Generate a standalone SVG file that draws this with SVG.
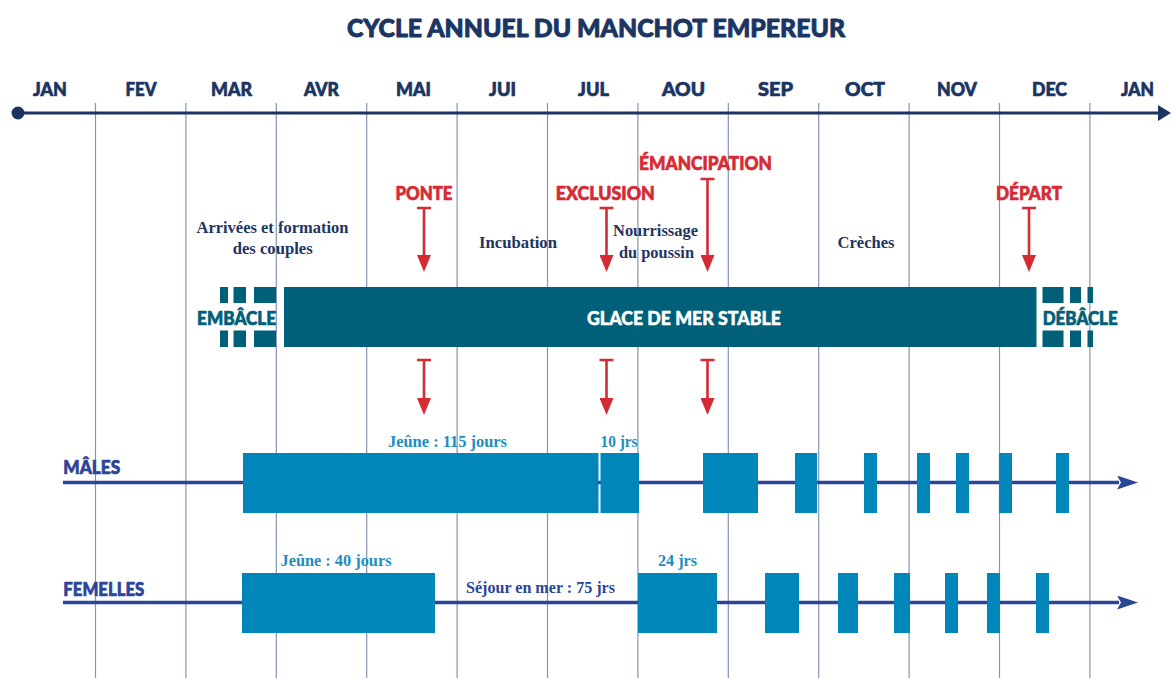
<svg xmlns="http://www.w3.org/2000/svg" width="1171" height="678" viewBox="0 0 1171 678">
  <defs>
    <style>
      .head { font-family: Lato, "Liberation Sans", sans-serif; font-weight: 900; text-anchor: middle; stroke-width: 0.7px; stroke-linejoin: round; }
      .title { font-size: 25.5px; fill: #1b3563; stroke: #1b3563; stroke-width: 0.9px; }
      .month { font-size: 19.5px; fill: #1b3563; stroke: #1b3563; }
      .event { font-size: 19.5px; fill: #d52b35; stroke: #d52b35; }
      .ice { font-size: 19px; fill: #005f79; stroke: #005f79; }
      .iceW { font-size: 19px; fill: #ffffff; stroke: #ffffff; stroke-width: 0.5px; }
      .sex { font-family: Lato, "Liberation Sans", sans-serif; font-weight: 900; font-size: 19.5px; fill: #2b4597; stroke: #2b4597; stroke-width: 0.7px; stroke-linejoin: round; }
      .note { font-family: "Liberation Serif", serif; font-weight: 700; font-size: 17px; fill: #1f3561; text-anchor: middle; }
      .fast { font-family: "Liberation Serif", serif; font-weight: 700; font-size: 17px; fill: #1e8ec1; text-anchor: middle; }
      .sea { font-family: "Liberation Serif", serif; font-weight: 700; font-size: 17px; fill: #2b4597; text-anchor: middle; }
      .grid { stroke: #8594b0; stroke-width: 1.2; }
      .axis { stroke: #1b3563; stroke-width: 3; fill: none; }
      .life { stroke: #2b4597; stroke-width: 3.5; fill: none; }
      .evt { stroke: #d52b35; stroke-width: 2.6; fill: none; }
      .bar { fill: #0086b8; }
      .block { fill: #005f79; }
    </style>
    <marker id="axisHead" markerUnits="userSpaceOnUse" viewBox="0 0 13 16" markerWidth="13" markerHeight="16" refX="2" refY="8" orient="auto">
      <path d="M0,0 L13,8 L0,16 z" fill="#1b3563"/>
    </marker>
    <marker id="lifeHead" markerUnits="userSpaceOnUse" viewBox="0 0 21 14" markerWidth="21" markerHeight="14" refX="2" refY="7" orient="auto">
      <path d="M0,0 L21,7 L0,14 L4,7 z" fill="#2b4597"/>
    </marker>
    <marker id="evtHead" markerUnits="userSpaceOnUse" viewBox="0 0 17 14" markerWidth="17" markerHeight="14" refX="2" refY="7" orient="auto">
      <path d="M0,0 L17,7 L0,14 z" fill="#d52b35"/>
    </marker>
  </defs>

  <rect width="1171" height="678" fill="#ffffff"/>

  <!-- month grid -->
  <g id="grid">
    <line class="grid" x1="95.5" y1="103" x2="95.5" y2="678"/>
    <line class="grid" x1="185.9" y1="103" x2="185.9" y2="678"/>
    <line class="grid" x1="276.3" y1="103" x2="276.3" y2="678"/>
    <line class="grid" x1="366.7" y1="103" x2="366.7" y2="678"/>
    <line class="grid" x1="457.1" y1="103" x2="457.1" y2="678"/>
    <line class="grid" x1="547.5" y1="103" x2="547.5" y2="678"/>
    <line class="grid" x1="637.9" y1="103" x2="637.9" y2="678"/>
    <line class="grid" x1="728.3" y1="103" x2="728.3" y2="678"/>
    <line class="grid" x1="818.7" y1="103" x2="818.7" y2="678"/>
    <line class="grid" x1="909.1" y1="103" x2="909.1" y2="678"/>
    <line class="grid" x1="999.5" y1="103" x2="999.5" y2="678"/>
    <line class="grid" x1="1089.9" y1="103" x2="1089.9" y2="678"/>
  </g>

  <g id="title">
    <text class="head title" x="596" y="37" textLength="498" lengthAdjust="spacingAndGlyphs">CYCLE ANNUEL DU MANCHOT EMPEREUR</text>
  </g>

  <g id="months">
    <text class="head month" x="50" y="95.5" textLength="34" lengthAdjust="spacingAndGlyphs">JAN</text>
    <text class="head month" x="141" y="95.5" textLength="31" lengthAdjust="spacingAndGlyphs">FEV</text>
    <text class="head month" x="231.5" y="95.5" textLength="41" lengthAdjust="spacingAndGlyphs">MAR</text>
    <text class="head month" x="321.5" y="95.5" textLength="35" lengthAdjust="spacingAndGlyphs">AVR</text>
    <text class="head month" x="413.5" y="95.5" textLength="35" lengthAdjust="spacingAndGlyphs">MAI</text>
    <text class="head month" x="502.5" y="95.5" textLength="27" lengthAdjust="spacingAndGlyphs">JUI</text>
    <text class="head month" x="593.5" y="95.5" textLength="31" lengthAdjust="spacingAndGlyphs">JUL</text>
    <text class="head month" x="683.5" y="95.5" textLength="43" lengthAdjust="spacingAndGlyphs">AOU</text>
    <text class="head month" x="775.5" y="95.5" textLength="35" lengthAdjust="spacingAndGlyphs">SEP</text>
    <text class="head month" x="865" y="95.5" textLength="40" lengthAdjust="spacingAndGlyphs">OCT</text>
    <text class="head month" x="957" y="95.5" textLength="40" lengthAdjust="spacingAndGlyphs">NOV</text>
    <text class="head month" x="1049.5" y="95.5" textLength="35" lengthAdjust="spacingAndGlyphs">DEC</text>
    <text class="head month" x="1137.5" y="95.5" textLength="33" lengthAdjust="spacingAndGlyphs">JAN</text>
  </g>

  <!-- year axis -->
  <g id="axis">
    <line class="axis" x1="18" y1="113" x2="1160" y2="113" marker-end="url(#axisHead)"/>
    <circle cx="18" cy="113" r="6.5" fill="#1b3563"/>
  </g>

  <!-- colony phases -->
  <g id="phases">
    <text class="note" x="272.5" y="232.5" textLength="152" lengthAdjust="spacingAndGlyphs">Arrivées et formation</text>
    <text class="note" x="272.7" y="254.3" textLength="80" lengthAdjust="spacingAndGlyphs">des couples</text>
    <text class="note" x="518" y="248" textLength="78" lengthAdjust="spacingAndGlyphs">Incubation</text>
    <text class="note" x="655.5" y="236" textLength="85" lengthAdjust="spacingAndGlyphs">Nourrissage</text>
    <text class="note" x="656.5" y="258" textLength="75" lengthAdjust="spacingAndGlyphs">du poussin</text>
    <text class="note" x="866" y="248" textLength="57" lengthAdjust="spacingAndGlyphs">Crèches</text>
  </g>

  <!-- key events -->
  <g id="ponte">
    <text class="head event" x="424" y="199.5" textLength="57" lengthAdjust="spacingAndGlyphs">PONTE</text>
  </g>
  <g id="exclusion">
    <text class="head event" x="605.3" y="199.5" textLength="99" lengthAdjust="spacingAndGlyphs">EXCLUSION</text>
  </g>
  <g id="emancipation">
    <text class="head event" x="705.5" y="169.5" textLength="133" lengthAdjust="spacingAndGlyphs">ÉMANCIPATION</text>
  </g>
  <g id="depart">
    <text class="head event" x="1029" y="199.5" textLength="66" lengthAdjust="spacingAndGlyphs">DÉPART</text>
  </g>

  <!-- sea ice -->
  <g id="embacle">
    <rect class="block" x="220" y="287" width="8" height="16"/>
    <rect class="block" x="233.5" y="287" width="12.5" height="16"/>
    <rect class="block" x="254" y="287" width="22" height="16"/>
    <rect class="block" x="220" y="330.5" width="8" height="16.5"/>
    <rect class="block" x="233.5" y="330.5" width="12.5" height="16.5"/>
    <rect class="block" x="254" y="330.5" width="22" height="16.5"/>
    <text class="head ice" x="236.6" y="324.5" textLength="79" lengthAdjust="spacingAndGlyphs">EMBÂCLE</text>
  </g>
  <g id="glace">
    <rect class="block" x="284" y="287" width="752.5" height="60"/>
    <text class="head iceW" x="684" y="325" textLength="194" lengthAdjust="spacingAndGlyphs">GLACE DE MER STABLE</text>
  </g>
  <g id="debacle">
    <rect class="block" x="1042.5" y="287" width="21" height="16"/>
    <rect class="block" x="1070" y="287" width="11" height="16"/>
    <rect class="block" x="1087.5" y="287" width="5.5" height="16"/>
    <rect class="block" x="1042.5" y="330.5" width="21" height="16.5"/>
    <rect class="block" x="1070" y="330.5" width="11" height="16.5"/>
    <rect class="block" x="1087.5" y="330.5" width="5.5" height="16.5"/>
    <text class="head ice" x="1080.2" y="324.5" textLength="75" lengthAdjust="spacingAndGlyphs">DÉBÂCLE</text>
  </g>

  <!-- event arrows -->
  <g id="connectors">
    <path class="evt" d="M417,208 h14 M424,208 V257" marker-end="url(#evtHead)"/>
    <path class="evt" d="M599.5,208 h14 M606.5,208 V257" marker-end="url(#evtHead)"/>
    <path class="evt" d="M700.5,179 h14 M707.5,179 V257" marker-end="url(#evtHead)"/>
    <path class="evt" d="M1022,208 h14 M1029,208 V257" marker-end="url(#evtHead)"/>
    <path class="evt" d="M417,360 h14 M424,360 V400" marker-end="url(#evtHead)"/>
    <path class="evt" d="M599.5,360 h14 M606.5,360 V400" marker-end="url(#evtHead)"/>
    <path class="evt" d="M700.5,360 h14 M707.5,360 V400" marker-end="url(#evtHead)"/>
  </g>

  <!-- males -->
  <g id="males">
    <line class="life" x1="63" y1="482.5" x2="1119" y2="482.5" marker-end="url(#lifeHead)"/>
    <text class="sex" x="63.3" y="474" textLength="57" lengthAdjust="spacingAndGlyphs">MÂLES</text>
    <rect class="bar" x="243" y="453" width="355.5" height="60"/>
    <rect class="bar" x="600.5" y="453" width="38.5" height="60"/>
    <rect class="bar" x="703" y="453" width="55" height="60"/>
    <rect class="bar" x="795" y="453" width="22" height="60"/>
    <rect class="bar" x="864" y="453" width="13" height="60"/>
    <rect class="bar" x="917" y="453" width="13" height="60"/>
    <rect class="bar" x="956" y="453" width="13" height="60"/>
    <rect class="bar" x="999" y="453" width="13" height="60"/>
    <rect class="bar" x="1056" y="453" width="13" height="60"/>
    <text class="fast" x="447.5" y="447" textLength="119" lengthAdjust="spacingAndGlyphs">Jeûne : 115 jours</text>
    <text class="fast" x="619" y="447" textLength="37" lengthAdjust="spacingAndGlyphs">10 jrs</text>
  </g>

  <!-- females -->
  <g id="femelles">
    <line class="life" x1="63" y1="602.5" x2="1119" y2="602.5" marker-end="url(#lifeHead)"/>
    <text class="sex" x="63.3" y="596" textLength="81" lengthAdjust="spacingAndGlyphs">FEMELLES</text>
    <rect class="bar" x="242" y="573" width="193" height="60"/>
    <rect class="bar" x="638" y="573" width="79" height="60"/>
    <rect class="bar" x="765" y="573" width="34" height="60"/>
    <rect class="bar" x="838" y="573" width="20" height="60"/>
    <rect class="bar" x="894" y="573" width="16" height="60"/>
    <rect class="bar" x="945" y="573" width="13" height="60"/>
    <rect class="bar" x="987" y="573" width="13" height="60"/>
    <rect class="bar" x="1036" y="573" width="13" height="60"/>
    <text class="fast" x="336" y="566" textLength="111" lengthAdjust="spacingAndGlyphs">Jeûne : 40 jours</text>
    <text class="fast" x="677.5" y="566" textLength="39" lengthAdjust="spacingAndGlyphs">24 jrs</text>
    <text class="sea" x="540.5" y="593" textLength="149" lengthAdjust="spacingAndGlyphs">Séjour en mer : 75 jrs</text>
  </g>
</svg>
